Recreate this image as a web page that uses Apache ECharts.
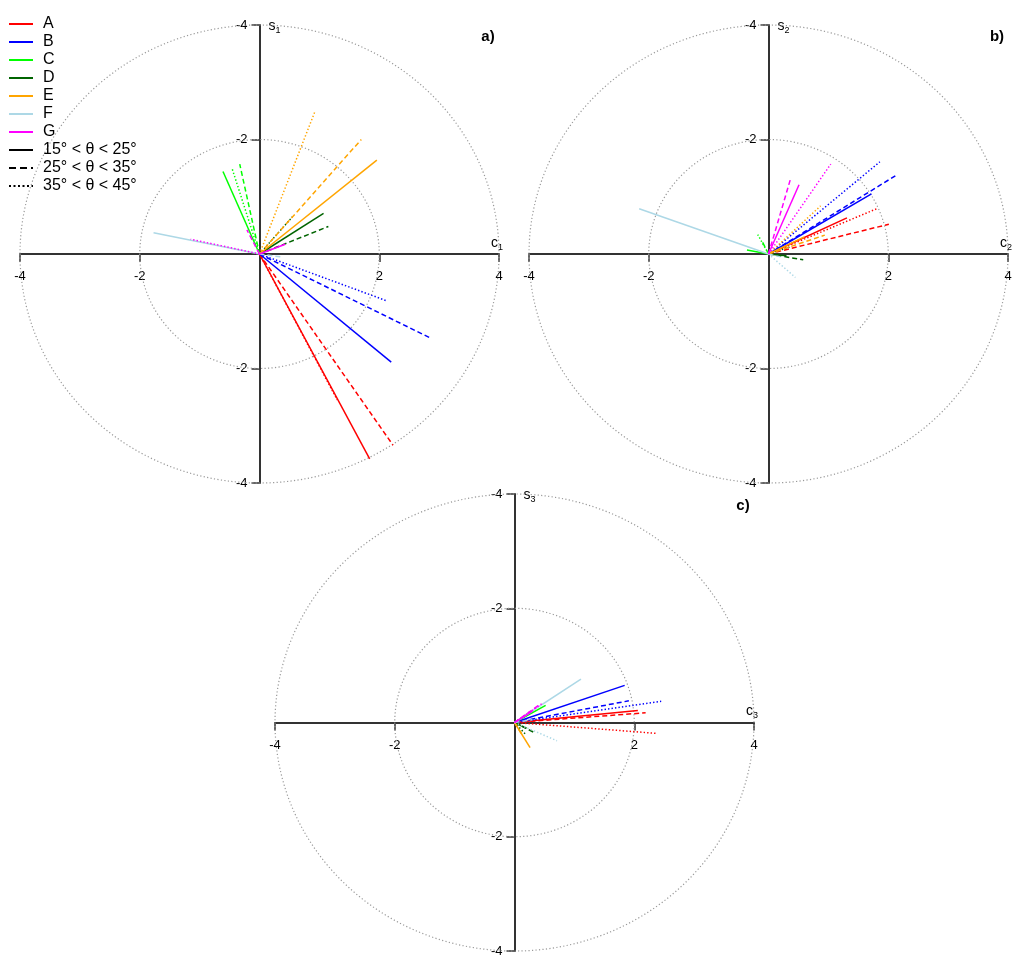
<!DOCTYPE html>
<html><head><meta charset="utf-8">
<script src="https://cdn.jsdelivr.net/npm/echarts@6/dist/echarts.min.js"></script>
<style>html,body{margin:0;padding:0;background:#fff}#chart{width:1024px;height:962px}</style>
</head><body><div id="chart"></div>
<script>
// ---- data ----
const groups = ['A', 'B', 'C', 'D', 'E', 'F', 'G'];
const groupColors = ['#ff0000', '#0000ff', '#00ff00', '#006400', '#ffa500', '#add8e6', '#ff00ff'];
const styleNames = ['15° < θ < 25°', '25° < θ < 35°', '35° < θ < 45°'];
const circleRadii = [2, 4];
const panelLabels = ['a)', 'b)', 'c)'];
const axisSubs = ['1', '2', '3'];
// segment end points (c, s) from origin, per group: [solid, dashed, dotted]
const endsA = [
  [[1.84, -3.58], [2.23, -3.34], [1.30, -2.55]],
  [[2.20, -1.89], [2.84, -1.46], [2.13, -0.82]],
  [[-0.61, 1.44], [-0.33, 1.57], [-0.46, 1.50]],
  [[1.07, 0.71], [1.15, 0.48], [0.55, 0.65]],
  [[1.96, 1.64], [1.70, 2.00], [0.93, 2.50]],
  [[-1.77, 0.37], [0.35, -0.05], null],
  [[0.43, 0.17], [-0.21, 0.42], [-1.15, 0.26]]
];
const endsB = [
  [[1.31, 0.63], [2.01, 0.52], [1.83, 0.80]],
  [[1.72, 1.05], [2.14, 1.38], [1.86, 1.61]],
  [[-0.36, 0.07], [-0.12, 0.25], [-0.18, 0.34]],
  [[0.30, -0.03], [0.58, -0.10], [0.35, 0.12]],
  [[0.60, 0.30], [0.94, 0.33], [0.87, 0.84]],
  [[-2.16, 0.79], [0.20, -0.05], [0.45, -0.41]],
  [[0.51, 1.21], [0.37, 1.32], [1.04, 1.57]]
];
const endsC = [
  [[2.06, 0.21], [2.19, 0.17], [2.37, -0.19]],
  [[1.84, 0.65], [1.91, 0.38], [2.45, 0.37]],
  [[0.52, 0.30], [0.30, 0.20], [0.25, 0.18]],
  [[0.20, -0.10], [0.32, -0.17], [0.18, -0.20]],
  [[0.26, -0.44], [0.12, -0.20], null],
  [[1.11, 0.76], [0.30, 0.05], [0.71, -0.32]],
  [[0.30, 0.20], [0.40, 0.30], [0.46, 0.33]]
];
const panelEnds = [endsA, endsB, endsC];

// ---- layout ----
const FONT = 'Liberation Sans, Arial, sans-serif';
const gridsPos = [
  { left: 20, top: 25, width: 479, height: 458 },
  { left: 529, top: 25, width: 479, height: 458 },
  { left: 275, top: 494, width: 479, height: 457 }
];
const plotDash = ['solid', [5, 3], [1.4, 2.1]];
const legendDash = ['solid', [7, 4], [2, 2.5]];

const grids = gridsPos.map(g => Object.assign({ containLabel: false, outerBoundsMode: 'none' }, g));
const axisLineStyle = { color: '#333', width: 2 };
const xAxes = gridsPos.map((g, i) => ({
  type: 'value', gridIndex: i, min: -4, max: 4, interval: 2,
  position: 'bottom', offset: -g.height / 2,
  axisLine: { onZero: false, lineStyle: axisLineStyle },
  axisTick: { length: 8, lineStyle: { color: '#333', width: 1.5 } },
  axisLabel: { margin: 16, fontSize: 13, color: '#000', fontFamily: FONT,
    formatter: v => (v === 0 ? '' : String(v)) },
  splitLine: { show: false }
}));
const yAxes = gridsPos.map((g, i) => ({
  type: 'value', gridIndex: i, min: -4, max: 4, interval: 2,
  position: 'left', offset: -g.width / 2,
  axisLine: { onZero: false, lineStyle: axisLineStyle },
  axisTick: { length: 8, lineStyle: { color: '#333', width: 1.5 } },
  axisLabel: { margin: 12, fontSize: 13, color: '#000', fontFamily: FONT,
    formatter: v => (v === 0 ? '' : String(-Math.abs(v))) },
  splitLine: { show: false }
}));

const series = [];
// reference circles
gridsPos.forEach((g, i) => {
  series.push({
    type: 'custom', xAxisIndex: i, yAxisIndex: i, silent: true, z: 1,
    data: circleRadii.map(r => [r, 0]),
    renderItem: (params, api) => {
      const r = api.value(0);
      const c = api.coord([0, 0]);
      const rx = api.size([r, 0])[0];
      const ry = api.size([0, r])[1];
      const d = `M ${c[0] - rx} ${c[1]} A ${rx} ${ry} 0 1 0 ${c[0] + rx} ${c[1]} A ${rx} ${ry} 0 1 0 ${c[0] - rx} ${c[1]} Z`;
      return {
        type: 'path',
        shape: { pathData: d, x: c[0] - rx, y: c[1] - ry, width: 2 * rx, height: 2 * ry, layout: 'cover' },
        style: { fill: 'none', stroke: '#999999', lineWidth: 1.2, lineDash: [1.2, 2.3] }
      };
    }
  });
});
// segments
panelEnds.forEach((ends, p) => {
  groups.forEach((gName, gi) => {
    ends[gi].forEach((pt, si) => {
      if (!pt) return;
      series.push({
        type: 'line', name: gName, xAxisIndex: p, yAxisIndex: p, z: 3,
        symbol: 'none', showSymbol: false, silent: true,
        data: [[0, 0], pt],
        lineStyle: { color: groupColors[gi], width: 1.5, type: plotDash[si] },
        itemStyle: { color: groupColors[gi] }
      });
    });
  });
});
// legend-only style series
styleNames.forEach((n, si) => {
  series.push({
    type: 'line', name: n, xAxisIndex: 0, yAxisIndex: 0, symbol: 'none', data: [],
    lineStyle: { color: '#000', width: 2, type: legendDash[si] },
    itemStyle: { color: '#000' }
  });
});

const legendData = groups.map(g => ({ name: g, lineStyle: { type: 'solid' } }))
  .concat(styleNames.map(n => ({ name: n })));

const graphics = [];
gridsPos.forEach((g, i) => {
  const ox = g.left + g.width / 2;
  const oy = g.top + g.height / 2;
  const rich = {
    m: { fontSize: 14, lineHeight: 18, verticalAlign: 'middle', fontFamily: FONT, fill: '#000' },
    s: { fontSize: 9, lineHeight: 10, verticalAlign: 'bottom', fontFamily: FONT, fill: '#000' }
  };
  graphics.push({
    type: 'text', x: ox + 9, y: g.top + 1, silent: true,
    style: { text: '{m|s}{s|' + axisSubs[i] + '}', rich: rich, verticalAlign: 'middle', align: 'left' }
  });
  graphics.push({
    type: 'text', x: g.left + g.width - 8, y: oy - 11, silent: true,
    style: { text: '{m|c}{s|' + axisSubs[i] + '}', rich: rich, verticalAlign: 'middle', align: 'left' }
  });
  graphics.push({
    type: 'text', x: g.left + g.width - 11, y: g.top + 12, silent: true,
    style: { text: panelLabels[i], font: 'bold 15px ' + FONT, fill: '#000', align: 'center', verticalAlign: 'middle' }
  });
});

const chart = echarts.init(document.getElementById('chart'), null, { renderer: 'canvas' });
chart.setOption({
  animation: false,
  backgroundColor: '#fff',
  grid: grids,
  xAxis: xAxes,
  yAxis: yAxes,
  legend: {
    left: 8, top: 15, orient: 'vertical', itemWidth: 24, itemHeight: 10, itemGap: 0,
    padding: 0, selectedMode: false,
    data: legendData,
    lineStyle: { width: 2 },
    itemStyle: { opacity: 0, color: 'rgba(0,0,0,0)', borderWidth: 0 },
    textStyle: { fontSize: 16, lineHeight: 18, color: '#000', fontFamily: FONT, padding: [0, 0, 0, 5] }
  },
  graphic: graphics,
  series: series
});
</script></body></html>
